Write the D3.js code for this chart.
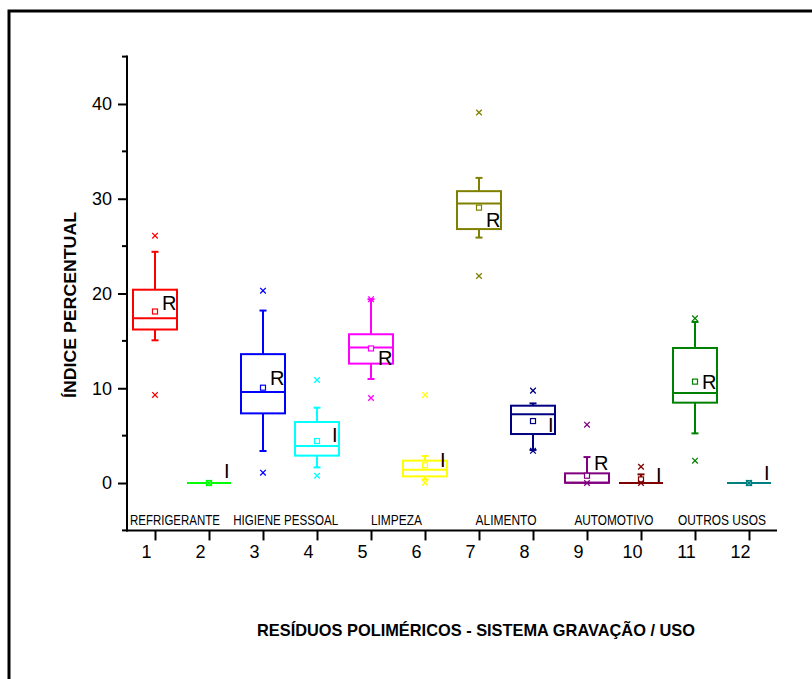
<!DOCTYPE html>
<html><head><meta charset="utf-8">
<script src="https://cdn.jsdelivr.net/npm/d3@7"></script>
<style>body{margin:0;background:#fff;overflow:hidden}</style>
</head><body><svg id="c" width="812" height="679"></svg>
<script>
// ---- data ----
const positions   = [1, 2, 3, 4, 5, 6, 7, 8, 9, 10, 11, 12];
const boxLabels   = ["R", "I", "R", "I", "R", "I", "R", "I", "R", "I", "R", "I"];
const whiskerLow  = [15.06, 0, 3.38, 1.65, 10.98, 0.38, 25.9, 3.48, 0, 0, 5.24, 0];
const q1          = [16.2, 0, 7.35, 2.89, 12.6, 0.7, 26.8, 5.17, 0.03, 0, 8.48, 0];
const median      = [17.4, 0, 9.6, 3.9, 14.3, 1.41, 29.5, 7.25, 0.03, 0, 9.5, 0];
const q3          = [20.4, 0, 13.6, 6.44, 15.7, 2.36, 30.8, 8.16, 1.02, 0, 14.25, 0];
const whiskerHigh = [24.4, 0, 18.2, 7.95, 19.4, 2.85, 32.2, 8.4, 2.74, 0.91, 17.0, 0];
const meanVals    = [18.1, 0, 10.06, 4.43, 14.2, 1.87, 29.06, 6.54, 0.77, 0.38, 10.7, 0];
const minVals     = [9.3, 0, 1.09, 0.77, 8.97, 0.03, 21.85, 3.4, 0, 0, 2.36, 0];
const maxVals     = [26.1, 0, 20.3, 10.87, 19.4, 9.3, 39.1, 9.75, 6.16, 1.72, 17.38, 0];
const labelVals   = [18.3, 0.5, 10.3, 4.3, 12.45, 1.7, 27.0, 5.4, 1.37, 0.1, 9.9, 0.3];
const groupNames  = ["REFRIGERANTE", "HIGIENE PESSOAL", "LIMPEZA", "ALIMENTO", "AUTOMOTIVO", "OUTROS USOS"];
const groupAt     = [1.37, 3.42, 5.47, 7.5, 9.5, 11.5];
const yMajorTicks = [0, 10, 20, 30, 40];
const yMinorTicks = [-5, 5, 15, 25, 35, 45];
const xTicks      = [1, 2, 3, 4, 5, 6, 7, 8, 9, 10, 11, 12];
const yTitle = "ÍNDICE PERCENTUAL";
const xTitle = "RESÍDUOS POLIMÉRICOS - SISTEMA GRAVAÇÃO / USO";

// ---- styles ----
const colors = ["#FF0000", "#00FF00", "#0000FF", "#00FFFF", "#FF00FF", "#FFFF00",
                "#808000", "#000080", "#800080", "#800000", "#008000", "#008080"];
const FONT = "'Liberation Sans', Arial, Helvetica, sans-serif";

const svg = d3.select("#c");

// outer frame
svg.append("rect").attr("x", 9).attr("y", 11).attr("width", 900).attr("height", 900)
  .attr("fill", "none").attr("stroke", "#000").attr("stroke-width", 3);

const x = d3.scaleLinear().domain([0.5, 12.5]).range([128, 776]);
const y = d3.scaleLinear().domain([-5, 45]).range([530.4, 56.6]);

// y axis
const yAxis = svg.append("g").attr("transform", "translate(127,0)")
  .call(d3.axisLeft(y).tickValues(yMajorTicks).tickSize(9).tickSizeOuter(0).tickPadding(6)
        .tickFormat(d3.format("d")));
yAxis.select(".domain").remove();
yAxis.selectAll(".tick line").attr("stroke", "#000").attr("stroke-width", 2);
yAxis.selectAll(".tick text").attr("font-family", FONT).attr("font-size", 18).attr("fill", "#000");
svg.append("g").selectAll("line").data(yMinorTicks).join("line")
  .attr("x1", 122).attr("x2", 127).attr("y1", d => y(d)).attr("y2", d => y(d))
  .attr("stroke", "#000").attr("stroke-width", 2);
svg.append("line").attr("x1", 127).attr("x2", 127).attr("y1", y(45) - 1).attr("y2", y(-5) + 1)
  .attr("stroke", "#000").attr("stroke-width", 2);

// x axis
const xAxis = svg.append("g").attr("transform", `translate(0,${y(-5)})`)
  .call(d3.axisBottom(x).tickValues(xTicks).tickSize(10).tickSizeOuter(0).tickPadding(5)
        .tickFormat(d3.format("d")));
xAxis.select(".domain").remove();
xAxis.selectAll(".tick line").attr("stroke", "#000").attr("stroke-width", 2);
xAxis.selectAll(".tick text").attr("font-family", FONT).attr("font-size", 18).attr("fill", "#000")
  .attr("dx", -9);
svg.append("line").attr("x1", 126).attr("x2", 777).attr("y1", y(-5)).attr("y2", y(-5))
  .attr("stroke", "#000").attr("stroke-width", 2);

// boxes
const boxW = 44, capW = 7, ms = 2.8;
const data = positions.map((p, i) => ({
  p, i, c: colors[i], lo: whiskerLow[i], q1: q1[i], med: median[i], q3: q3[i],
  hi: whiskerHigh[i], mean: meanVals[i], mn: minVals[i], mx: maxVals[i],
  lab: boxLabels[i], labV: labelVals[i]
}));

const g = svg.append("g");
data.forEach(d => {
  const cx = x(d.p), gg = g.append("g").attr("stroke", d.c).attr("fill", "none").attr("stroke-width", 2);
  gg.append("line").attr("x1", cx).attr("x2", cx).attr("y1", y(d.q3)).attr("y2", y(d.hi));
  gg.append("line").attr("x1", cx).attr("x2", cx).attr("y1", y(d.q1)).attr("y2", y(d.lo));
  if (d.hi > d.q3) gg.append("line").attr("x1", cx - capW / 2).attr("x2", cx + capW / 2).attr("y1", y(d.hi)).attr("y2", y(d.hi));
  if (d.lo < d.q1) gg.append("line").attr("x1", cx - capW / 2).attr("x2", cx + capW / 2).attr("y1", y(d.lo)).attr("y2", y(d.lo));
  if (d.q3 > d.q1) {
    gg.append("rect").attr("x", cx - boxW / 2).attr("y", y(d.q3)).attr("width", boxW)
      .attr("height", y(d.q1) - y(d.q3));
  }
  gg.append("line").attr("x1", cx - boxW / 2).attr("x2", cx + boxW / 2)
    .attr("y1", y(d.med)).attr("y2", y(d.med));
  gg.append("rect").attr("x", cx - 2.5).attr("y", y(d.mean) - 2.5).attr("width", 5).attr("height", 5)
    .attr("stroke-width", 1.2).attr("fill", "#fff");
  [d.mn, d.mx].forEach(v => {
    const yy = y(v);
    gg.append("path").attr("d", `M${cx - ms},${yy - ms}L${cx + ms},${yy + ms}M${cx - ms},${yy + ms}L${cx + ms},${yy - ms}`)
      .attr("stroke-width", 1.3);
  });
  g.append("text").attr("x", cx + (d.lab === "R" ? 7 : 15)).attr("y", y(d.labV))
    .attr("font-family", FONT).attr("font-size", 20).attr("fill", "#000").text(d.lab);
});

// group labels
const groupW = [90, 105, 51, 61, 79, 88];
svg.append("g").selectAll("text").data(groupNames).join("text")
  .attr("x", (d, i) => x(groupAt[i])).attr("y", 525).attr("text-anchor", "middle")
  .attr("font-family", FONT).attr("font-size", 14).attr("fill", "#000")
  .attr("textLength", (d, i) => groupW[i]).attr("lengthAdjust", "spacingAndGlyphs")
  .text(d => d);

// axis titles
svg.append("text").attr("transform", `translate(76,305) rotate(-90)`).attr("text-anchor", "middle")
  .attr("font-family", FONT).attr("font-weight", "bold").attr("font-size", 17).attr("fill", "#000")
  .attr("textLength", 186).attr("lengthAdjust", "spacingAndGlyphs").text(yTitle);
svg.append("text").attr("x", 476).attr("y", 636).attr("text-anchor", "middle")
  .attr("font-family", FONT).attr("font-weight", "bold").attr("font-size", 17).attr("fill", "#000")
  .attr("textLength", 438).attr("lengthAdjust", "spacingAndGlyphs").text(xTitle);
</script></body></html>
